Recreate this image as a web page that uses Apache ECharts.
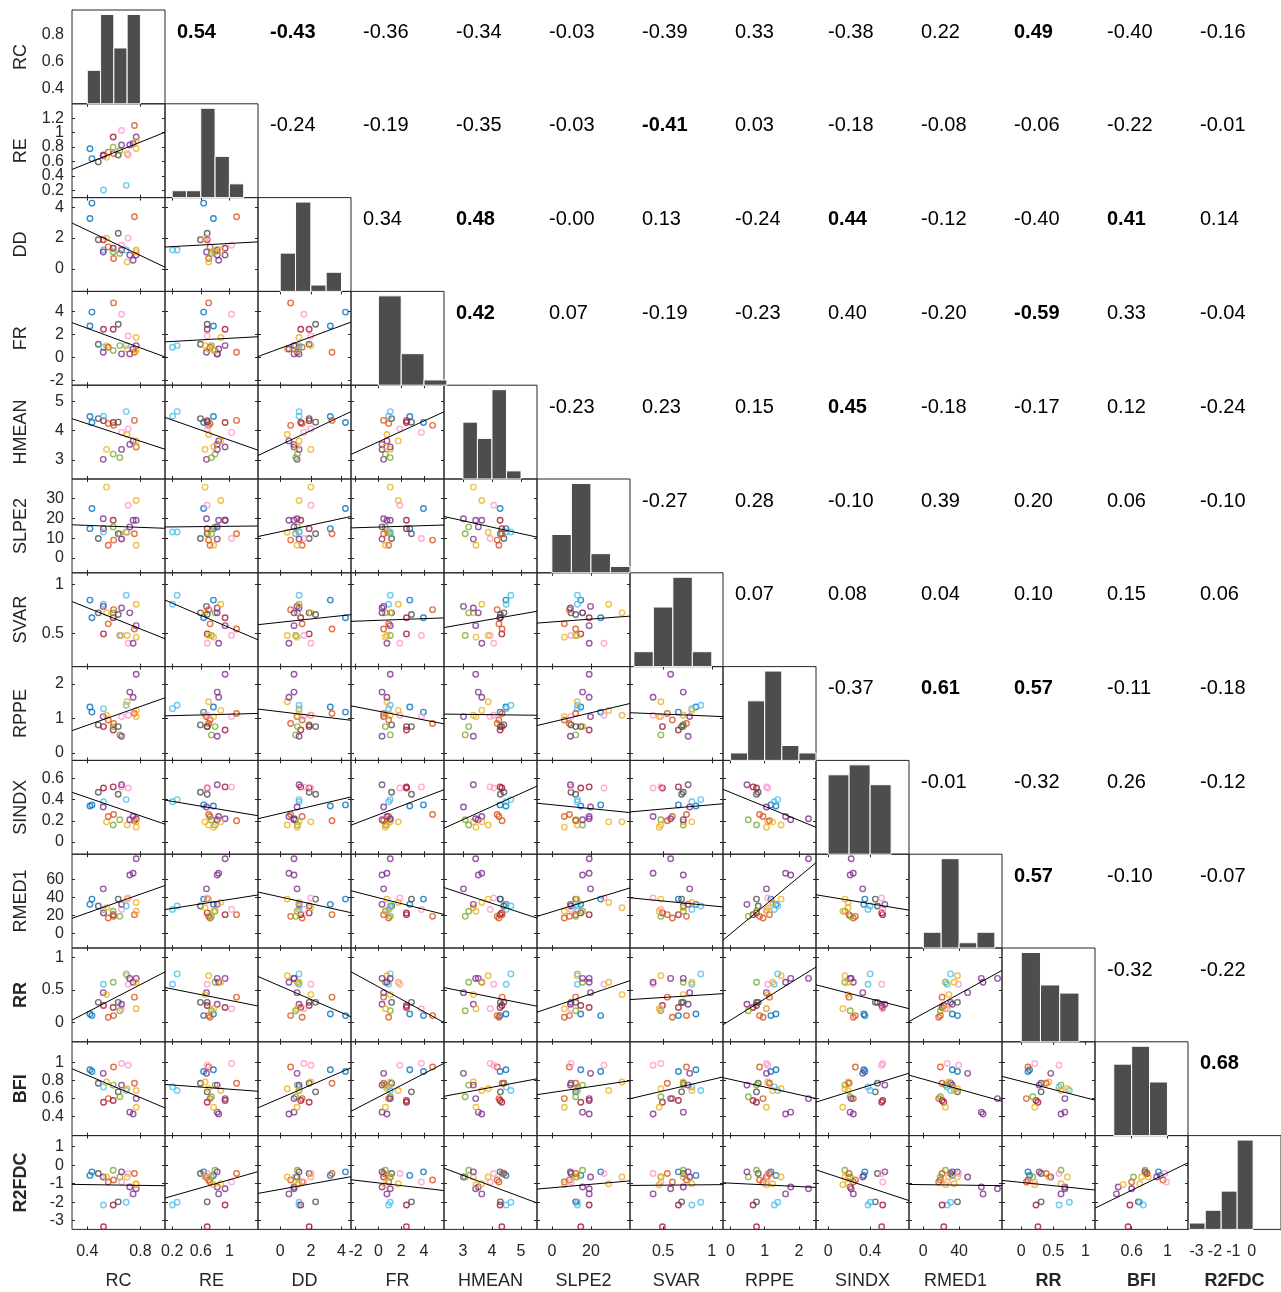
<!DOCTYPE html>
<html><head><meta charset="utf-8">
<script src="https://cdn.jsdelivr.net/npm/echarts@6/dist/echarts.min.js"></script>
<style>html,body{margin:0;padding:0;background:#fff}#c{width:1281px;height:1292px}</style>
</head><body><div id="c"></div>
<script>
// ---------- data ----------
const names = ['RC','RE','DD','FR','HMEAN','SLPE2','SVAR','RPPE','SINDX','RMED1','RR','BFI','R2FDC'];
const boldNames = ['RR','BFI','R2FDC'];
const pointColors = ['#0072BD','#0072BD','#4D4D4D','#A2142F','#4DBEEE','#7E2F8E','#EDB120','#D95319','#A2142F','#77AC30','#D95319','#4D4D4D','#77AC30','#FF99CC','#7E2F8E','#4DBEEE','#EDB120','#FF99CC','#7E2F8E','#7E2F8E','#D95319','#7E2F8E','#EDB120','#EDB120'];
const RC    = [0.42,0.435,0.483,0.522,0.522,0.52,0.545,0.558,0.595,0.595,0.598,0.633,0.645,0.658,0.658,0.693,0.70,0.708,0.72,0.745,0.755,0.768,0.768,0.768];
const RE    = [0.777,0.64,0.595,0.69,0.205,0.68,0.66,0.73,0.94,0.80,0.71,0.69,0.75,1.03,0.83,0.27,0.71,0.69,0.83,0.85,1.10,0.94,0.88,0.78];
const DD    = [3.27,4.26,1.89,1.89,1.23,1.10,2.0,1.43,1.34,1.12,0.68,2.31,1.01,1.54,1.23,1.23,0.46,2.0,0.9,0.57,3.38,0.9,1.23,1.10];
const FR    = [2.75,3.95,1.16,2.46,0.9,0.46,1.04,0.9,2.46,0.61,4.75,2.9,1.04,3.77,0.32,1.04,0.75,1.88,0.32,0.75,0.46,1.04,1.74,0.61];
const HMEAN = [4.48,4.28,4.41,4.34,4.49,3.02,3.36,4.24,4.28,3.2,4.18,4.29,3.08,3.94,3.36,4.65,3.87,4.06,3.53,3.65,4.35,3.44,3.65,3.45];
const SLPE2 = [14.8,25.0,9.8,14.8,13.1,19.8,35.9,6.4,19.1,15.7,9.0,12.2,12.2,9.8,9.5,13.1,13.0,26.7,15.7,19.1,12.2,19.1,29.1,6.4];
const SVAR  = [0.837,0.657,0.707,0.493,0.795,0.773,0.707,0.595,0.657,0.707,0.74,0.69,0.477,0.477,0.757,0.887,0.477,0.397,0.707,0.397,0.543,0.577,0.795,0.46];
const RPPE  = [1.33,1.18,0.81,0.76,1.28,1.05,1.09,0.95,0.66,0.76,0.85,0.76,0.52,1.05,0.48,1.38,1.48,1.09,1.76,1.61,1.14,2.28,1.23,1.05];
const SINDX = [0.34,0.35,0.47,0.51,0.38,0.33,0.19,0.24,0.52,0.16,0.26,0.45,0.21,0.52,0.54,0.40,0.16,0.51,0.21,0.24,0.20,0.22,0.19,0.14];
const RMED1 = [32.4,38.2,30.5,22.9,26.7,49.6,28.6,17.2,21.0,24.8,19.1,38.2,19.1,26.7,32.4,30.5,38.2,39.5,64.9,66.8,21.0,83,34.4,24.8];
const RR    = [0.13,0.105,0.31,0.26,0.59,0.46,0.43,0.08,0.23,0.62,0.105,0.31,0.18,0.21,0.28,0.75,0.72,0.59,0.68,0.62,0.39,0.68,0.62,0.21];
const BFI   = [0.92,0.90,0.77,0.56,0.73,0.88,0.785,0.60,0.58,0.75,0.95,0.675,0.62,0.99,0.75,0.69,0.71,0.97,0.45,0.43,0.77,0.60,0.69,0.505];
const R2FDC = [-0.55,-0.36,-0.45,-3.33,-2.15,-0.64,-0.64,-0.91,-2.15,-0.27,-0.8,-1.98,-0.64,-0.91,-0.36,-2.0,-0.64,-0.45,-1.18,-1.55,-0.45,-1.27,-1.0,-1.05];

// axis limits of each variable
const axisMin = [0.285,0.10,-1.45,-2.4,2.35,-7.6,0.16,-0.22,-0.115,-16,-0.3,0.19,-3.47];
const axisMax = [0.985,1.40,4.62,5.75,5.55,40,1.115,2.5,0.77,88,1.15,1.23,1.6];
// tick labels (left column = yTicks, bottom row = xTicks)
const yTicks = [[0.4,0.6,0.8],[0.2,0.4,0.6,0.8,1,1.2],[0,2,4],[-2,0,2,4],[3,4,5],[0,10,20,30],[0.5,1],[0,1,2],[0,0.2,0.4,0.6],[0,20,40,60],[0,0.5,1],[0.4,0.6,0.8,1],[-3,-2,-1,0,1]];
const xTicks = [[0.4,0.8],[0.2,0.6,1],[0,2,4],[-2,0,2,4],[3,4,5],[0,20],[0.5,1],[0,1,2],[0,0.4],[0,40],[0,0.5,1],[0.6,1],[-3,-2,-1,0]];
// histograms on the diagonal: first bin edge, bin width, counts
const histStart = [0.4,0.2,0,0,3,0,0.2,0,0,0,0,0.4,-3.4];
const histWidth = [0.1,0.2,1,2,0.5,10,0.2,0.5,0.2,20,0.3,0.2,0.87];
const histCounts = [[3,8,5,8],[1,1,13,6,2],[6,14,1,3],[17,6,1],[7,5,11,1],[6,14,3,1],[2,8,12,2],[1,8,12,2,1],[8,9,7],[3,17,1,3],[11,7,6],[8,10,6],[1,3,6,14]];
// correlation labels (upper triangle, row by row)
const corrLabels = [
 ['0.54','-0.43','-0.36','-0.34','-0.03','-0.39','0.33','-0.38','0.22','0.49','-0.40','-0.16'],
 ['-0.24','-0.19','-0.35','-0.03','-0.41','0.03','-0.18','-0.08','-0.06','-0.22','-0.01'],
 ['0.34','0.48','-0.00','0.13','-0.24','0.44','-0.12','-0.40','0.41','0.14'],
 ['0.42','0.07','-0.19','-0.23','0.40','-0.20','-0.59','0.33','-0.04'],
 ['-0.23','0.23','0.15','0.45','-0.18','-0.17','0.12','-0.24'],
 ['-0.27','0.28','-0.10','0.39','0.20','0.06','-0.10'],
 ['0.07','0.08','0.04','0.10','0.15','0.06'],
 ['-0.37','0.61','0.57','-0.11','-0.18'],
 ['-0.01','-0.32','0.26','-0.12'],
 ['0.57','-0.10','-0.07'],
 ['-0.32','-0.22'],
 ['0.68']
];
const corrBold = [
 [1,1,0,0,0,0,0,0,0,1,0,0],
 [0,0,0,0,1,0,0,0,0,0,0],
 [0,1,0,0,0,1,0,0,1,0],
 [1,0,0,0,0,0,1,0,0],
 [0,0,0,1,0,0,0,0],
 [0,0,0,0,0,0,0],
 [0,0,0,0,0,0],
 [0,1,1,0,0],
 [0,0,0,0],
 [1,0,0],
 [0,0],
 [1]
];

// ---------- layout / style ----------
const vars = [RC,RE,DD,FR,HMEAN,SLPE2,SVAR,RPPE,SINDX,RMED1,RR,BFI,R2FDC];
const n = names.length;
const L0 = 72, T0 = 10, CW = 93, CH = 93.8;
const FONT = '"Liberation Sans", Arial, Helvetica, sans-serif';
const TXT = '#262626';
const fmt = v => String(v);

const grids = [], xAxes = [], yAxes = [], series = [], graphics = [];

function valAxis(gi, pos, min, max, ticks, labels, showTicks, labelMargin) {
  return {
    gridIndex: gi, type: 'value', position: pos, min: min, max: max,
    splitLine: { show: false },
    axisLine: { show: false, onZero: false },
    axisTick: { show: showTicks, inside: true, length: 3, lineStyle: { color: TXT, width: 1 }, customValues: ticks },
    axisLabel: { show: !!labels, customValues: labels || [], formatter: fmt, color: TXT, fontSize: 16,
      fontFamily: FONT, margin: labelMargin, hideOverlap: false, showMinLabel: true, showMaxLabel: true }
  };
}
// labels of one axis split in two groups (alternate) so none are dropped for overlap
const evenOf = a => a.filter((_, k) => k % 2 === 0);
const oddOf = a => a.filter((_, k) => k % 2 === 1);

function linfit(x, y) {
  const m = x.length;
  let sx = 0, sy = 0;
  for (let k = 0; k < m; k++) { sx += x[k]; sy += y[k]; }
  const mx = sx / m, my = sy / m;
  let sxy = 0, sxx = 0;
  for (let k = 0; k < m; k++) { sxy += (x[k]-mx)*(y[k]-my); sxx += (x[k]-mx)*(x[k]-mx); }
  const b = sxy / sxx;
  return [my - b*mx, b];
}

for (let i = 0; i < n; i++) {
  for (let j = 0; j <= i; j++) {
    const gi = grids.length;
    grids.push({ left: L0 + j*CW, top: T0 + i*CH, width: CW, height: CH, show: true,
      borderColor: TXT, borderWidth: 1, backgroundColor: 'transparent', containLabel: false });
    const xi = xAxes.length;
    const bottomRow = i === n-1;
    xAxes.push(valAxis(gi, 'bottom', axisMin[j], axisMax[j], xTicks[j], bottomRow ? evenOf(xTicks[j]) : null, i !== j, 14));
    if (bottomRow) xAxes.push(valAxis(gi, 'bottom', axisMin[j], axisMax[j], [], oddOf(xTicks[j]), false, 14));
    if (j === 0) {
      yAxes.push(valAxis(gi, 'left', axisMin[i], axisMax[i], [], oddOf(yTicks[i]), false, 8));
    }
    if (i === j) {
      // histogram cell
      const maxC = Math.max.apply(null, histCounts[i]);
      const yi = yAxes.length;
      yAxes.push({ gridIndex: gi, type: 'value', min: 0, max: maxC * 1.05, show: false });
      if (i === 0) {
        yAxes.push(valAxis(gi, 'left', axisMin[i], axisMax[i], yTicks[i], evenOf(yTicks[i]), false, 8));
      }
      const hd = histCounts[i].map((c, k) => [histStart[i] + k*histWidth[i], histStart[i] + (k+1)*histWidth[i], c]);
      series.push({
        type: 'custom', xAxisIndex: xi, yAxisIndex: yi, silent: true, animation: false,
        encode: { x: [0, 1], y: 2 },
        data: hd,
        renderItem: function (params, api) {
          const p0 = api.coord([api.value(0), api.value(2)]);
          const p1 = api.coord([api.value(1), 0]);
          return { type: 'rect', shape: { x: p0[0], y: p0[1], width: p1[0]-p0[0], height: p1[1]-p0[1] },
            style: { fill: '#4D4D4D', stroke: '#ffffff', lineWidth: 1 } };
        }
      });
    } else {
      xAxes.push(valAxis(gi, 'top', axisMin[j], axisMax[j], xTicks[j], null, true, 0));
      const yi = yAxes.length;
      yAxes.push(valAxis(gi, 'left', axisMin[i], axisMax[i], yTicks[i], j === 0 ? evenOf(yTicks[i]) : null, true, 8));
      yAxes.push(valAxis(gi, 'right', axisMin[i], axisMax[i], yTicks[i], null, true, 0));
      const xs = vars[j], ys = vars[i];
      series.push({
        type: 'scatter', xAxisIndex: xi, yAxisIndex: yi, silent: true, animation: false,
        symbol: 'circle', symbolSize: 5.5,
        itemStyle: { color: 'rgba(0,0,0,0)', borderWidth: 1.4 },
        data: xs.map((v, k) => ({ value: [v, ys[k]], itemStyle: { borderColor: pointColors[k] } }))
      });
      const ab = linfit(xs, ys);
      const x0 = axisMin[j], x1 = axisMax[j];
      series.push({
        type: 'line', xAxisIndex: xi, yAxisIndex: yi, silent: true, animation: false,
        symbol: 'none', clip: true, lineStyle: { color: '#000000', width: 1 },
        data: [[x0, ab[0] + ab[1]*x0], [x1, ab[0] + ab[1]*x1]]
      });
    }
  }
}

// correlation texts
for (let i = 0; i < n; i++) {
  for (let j = i+1; j < n; j++) {
    const k = j - i - 1;
    graphics.push({ type: 'text', x: L0 + j*CW + 12, y: T0 + i*CH + 22, silent: true,
      style: { text: corrLabels[i][k], fill: '#000000', fontSize: 20, fontFamily: FONT,
        fontWeight: corrBold[i][k] ? 'bold' : 'normal', textAlign: 'left', textVerticalAlign: 'middle' } });
  }
}
// variable names
for (let i = 0; i < n; i++) {
  const b = boldNames.indexOf(names[i]) >= 0;
  graphics.push({ type: 'text', x: 21, y: T0 + i*CH + CH/2, rotation: Math.PI/2, silent: true,
    style: { text: names[i], fill: TXT, fontSize: 18, fontFamily: FONT, fontWeight: b ? 'bold' : 'normal',
      textAlign: 'center', textVerticalAlign: 'middle' } });
  graphics.push({ type: 'text', x: L0 + i*CW + CW/2, y: 1281, silent: true,
    style: { text: names[i], fill: TXT, fontSize: 18, fontFamily: FONT, fontWeight: b ? 'bold' : 'normal',
      textAlign: 'center', textVerticalAlign: 'middle' } });
}

const chart = echarts.init(document.getElementById('c'), null, { renderer: 'canvas' });
chart.setOption({
  animation: false,
  backgroundColor: '#ffffff',
  grid: grids, xAxis: xAxes, yAxis: yAxes, series: series, graphic: graphics
});
</script></body></html>
